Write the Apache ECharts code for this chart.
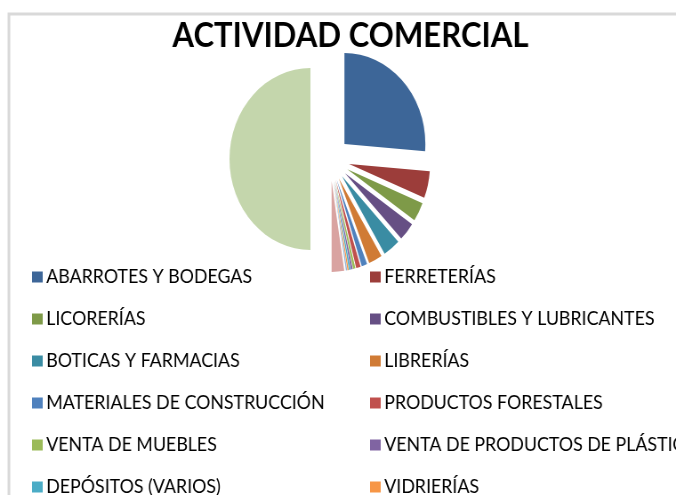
<!DOCTYPE html>
<html lang="es">
<head>
    <meta charset="UTF-8">
    <title>Actividad comercial</title>
    <script src="https://cdn.jsdelivr.net/npm/echarts@6/dist/echarts.min.js"></script>
</head>
<style>
    *{
        margin: 0;
        padding: 0;
    }
    html , body{
        overflow: hidden;
        width: 676px;
        height: 495px;
        background: #fff;
    }
    /* el original esta comprimido en horizontal */
    .contain{
        width: 760px;
        height: 495px;
        transform: scaleX(0.8895);
        transform-origin: 0 0;
    }
</style>
<body>
<div class="contain"></div>
<script>
    const categorias = [
        'ABARROTES Y BODEGAS', 'FERRETERÍAS', 'LICORERÍAS', 'COMBUSTIBLES Y LUBRICANTES',
        'BOTICAS Y FARMACIAS', 'LIBRERÍAS', 'MATERIALES DE CONSTRUCCIÓN', 'PRODUCTOS FORESTALES',
        'VENTA DE MUEBLES', 'VENTA DE PRODUCTOS DE PLÁSTICO', 'DEPÓSITOS (VARIOS)', 'VIDRIERÍAS',
        'FERIAS', 'OTROS', 'TOTAL'
    ];
    const valores = [524, 96, 68, 66, 68, 54, 22, 18, 9, 7, 6, 5, 5, 50, 998];
    const colores = [
        '#3D6698', '#9C3D3A', '#7E9A48', '#664F84', '#3A8CA3', '#D07B35',
        '#4F81BD', '#C0504D', '#9BBB59', '#8064A2', '#4BACC6', '#F79646',
        '#95B3D7', '#D9A3A1', '#C4D6AC'
    ];

    let chart = echarts.init(document.querySelector('.contain'));

    // leyenda en dos columnas: pares a la izquierda, impares a la derecha
    let izq = categorias.filter((c, i) => i % 2 == 0);
    let der = categorias.filter((c, i) => i % 2 == 1);

    let leyenda = {
        orient: 'vertical',
        top: 267,
        height: 600,
        padding: 0,
        icon: 'rect',
        itemWidth: 12,
        itemHeight: 11,
        itemGap: 22,
        selectedMode: false,
        textStyle: {
            fontFamily: 'Lato',
            fontSize: 20,
            color: '#000',
            padding: [0, 0, 0, -1]
        }
    };

    let option = {
        animation: false,
        color: colores,
        title: {
            text: 'ACTIVIDAD COMERCIAL',
            left: 389,
            textAlign: 'center',
            top: 13,
            textStyle: {
                fontFamily: 'Lato',
                fontWeight: 'bold',
                fontSize: 35,
                color: '#000'
            }
        },
        legend: [
            Object.assign({}, leyenda, {left: 36, data: izq}),
            Object.assign({}, leyenda, {left: 416, data: der})
        ],
        graphic: [{
            type: 'rect',
            shape: {x: 10, y: 14, width: 900, height: 600},
            style: {fill: 'none', stroke: '#D9D9D9', lineWidth: 3},
            silent: true
        }],
        series: [{
            type: 'pie',
            center: [371, 159],
            radius: 91,
            startAngle: 90,
            selectedMode: 'multiple',
            selectedOffset: 22,
            label: {show: false},
            labelLine: {show: false},
            emphasis: {disabled: true},
            data: categorias.map((c, i) => ({name: c, value: valores[i], selected: true}))
        }]
    };

    chart.setOption(option);
</script>
</body>
</html>
